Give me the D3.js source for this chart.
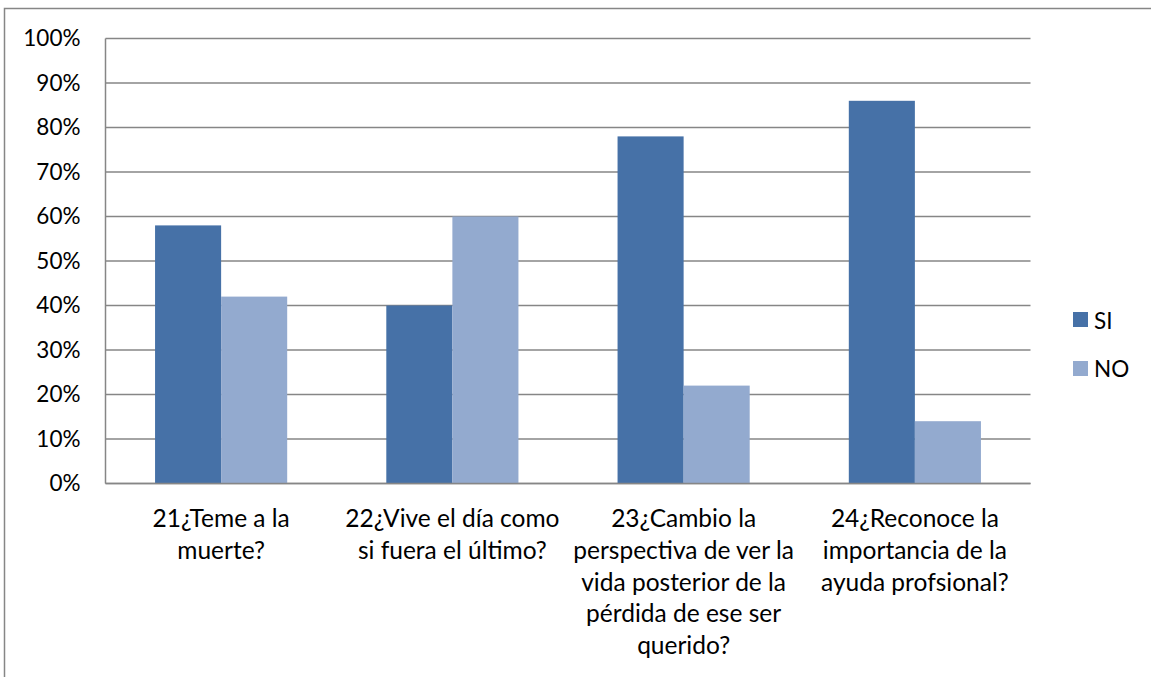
<!DOCTYPE html>
<html>
<head>
<meta charset="utf-8">
<script src="https://cdn.jsdelivr.net/npm/d3@7"></script>
<style>
  html, body { margin: 0; padding: 0; background: #fff; }
  svg { display: block; }
  text { font-family: Lato, "Open Sans", sans-serif; fill: #000; }
</style>
</head>
<body>
<svg id="chart" width="1151" height="677"></svg>
<script>
// Survey questions (x categories), one line per wrapped row of the label
const categories = [
  "21¿Teme a la|muerte?",
  "22¿Vive el día como|si fuera el último?",
  "23¿Cambio la|perspectiva de ver la|vida posterior de la|pérdida de ese ser|querido?",
  "24¿Reconoce la|importancia de la|ayuda profsional?"
];
const seriesNames = ["SI", "NO"];
const siValues = [0.58, 0.40, 0.78, 0.86];
const noValues = [0.42, 0.60, 0.22, 0.14];
const yTicks = [0, 0.1, 0.2, 0.3, 0.4, 0.5, 0.6, 0.7, 0.8, 0.9, 1.0];
const colors = ["#4671A7", "#93AACF"];

const FONT = "24.5px";
const TICK_FONT = "22.5px";
const svg = d3.select("#chart");
const plot = { left: 105.5, right: 1030.5, top: 38.5, bottom: 483.5 };

// outer chart frame
svg.append("rect")
  .attr("x", 4.5).attr("y", 8.5)
  .attr("width", 1200).attr("height", 1000)
  .attr("fill", "none").attr("stroke", "#868686").attr("stroke-width", 1.5);

const x0 = d3.scaleBand()
  .domain(categories)
  .range([plot.left, plot.right])
  .paddingInner(0).paddingOuter(0);

const y = d3.scaleLinear().domain([0, 1]).range([plot.bottom, plot.top]);

// horizontal gridlines
svg.append("g")
  .selectAll("line")
  .data(yTicks)
  .join("line")
  .attr("x1", plot.left).attr("x2", plot.right)
  .attr("y1", d => y(d)).attr("y2", d => y(d))
  .attr("stroke", "#868686").attr("stroke-width", 1.5);

// left axis line
svg.append("line")
  .attr("x1", plot.left).attr("x2", plot.left)
  .attr("y1", plot.top).attr("y2", plot.bottom)
  .attr("stroke", "#868686").attr("stroke-width", 1.5);

// y tick labels
const yAxis = d3.axisLeft(y).tickValues(yTicks).tickFormat(d3.format(".0%")).tickSize(0).tickPadding(25);
const yg = svg.append("g").attr("transform", `translate(${plot.left},0)`).call(yAxis);
yg.select(".domain").remove();
yg.selectAll("text").style("font-size", TICK_FONT).style("font-family", "Lato, sans-serif").attr("fill", "#000");

// bars: gap width of 1.5 bar widths between groups
const groupW = x0.bandwidth();
const barW = groupW / 3.5;
const x1 = d3.scaleBand().domain(seriesNames).range([0.75 * barW, 2.75 * barW]).padding(0);

const data = categories.map((c, i) => ({ c, vals: [siValues[i], noValues[i]] }));
const groups = svg.append("g").selectAll("g")
  .data(data).join("g")
  .attr("transform", d => `translate(${x0(d.c)},0)`);
groups.selectAll("rect")
  .data(d => d.vals.map((v, k) => ({ k, v })))
  .join("rect")
  .attr("x", d => x1(seriesNames[d.k]))
  .attr("width", x1.bandwidth())
  .attr("y", d => y(d.v))
  .attr("height", d => y(0) - y(d.v))
  .attr("fill", d => colors[d.k]);

// redraw the baseline over the bars
svg.append("line")
  .attr("x1", plot.left).attr("x2", plot.right)
  .attr("y1", y(0)).attr("y2", y(0))
  .attr("stroke", "#868686").attr("stroke-width", 1.5);

// x category labels
const xl = svg.append("g");
categories.forEach(c => {
  const t = xl.append("text")
    .attr("x", x0(c) + groupW / 2)
    .attr("y", 527)
    .attr("text-anchor", "middle")
    .style("font-size", FONT);
  c.split("|").forEach((line, i) => {
    t.append("tspan").attr("x", x0(c) + groupW / 2).attr("dy", i === 0 ? 0 : 31.8).text(line);
  });
});

// legend
const lg = svg.append("g");
seriesNames.forEach((n, i) => {
  lg.append("rect").attr("x", 1073).attr("y", 312 + i * 49).attr("width", 15).attr("height", 15).attr("fill", colors[i]);
  lg.append("text").attr("x", 1094).attr("y", 329 + i * 47.5).style("font-size", TICK_FONT).text(n);
});
</script>
</body>
</html>
